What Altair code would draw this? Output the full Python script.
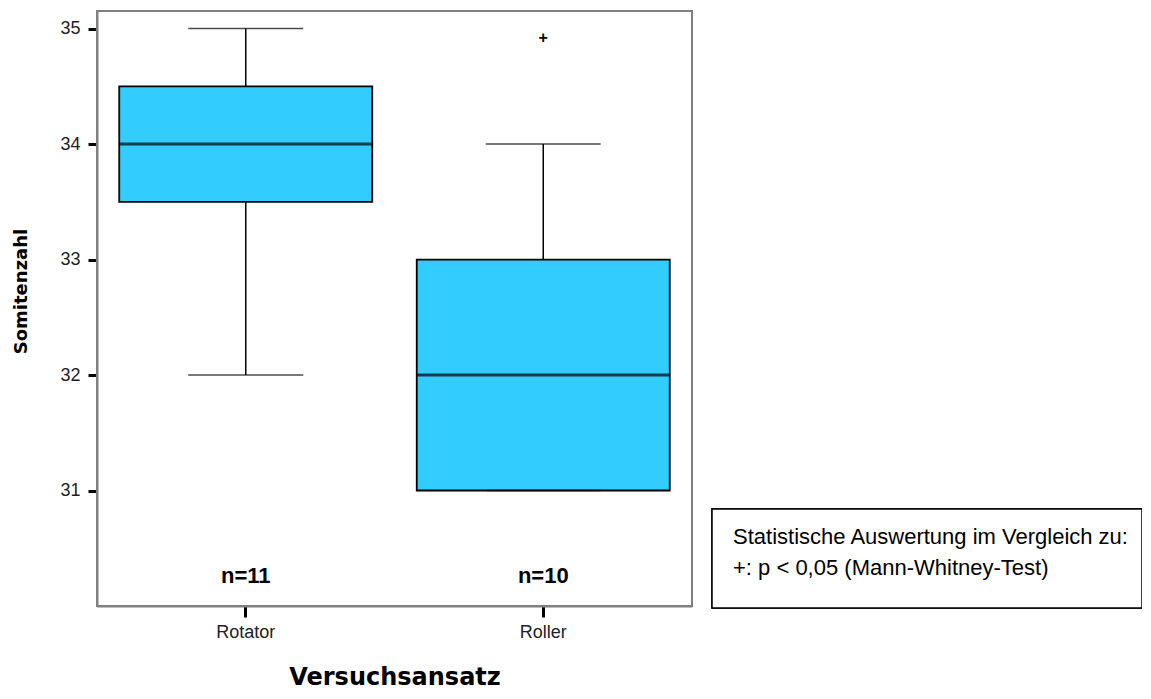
import altair as alt
import pandas as pd

groups = ["Rotator", "Roller"]
whisker_low = [32, 31]
q1 = [33.5, 31]
median = [34, 32]
q3 = [34.5, 33]
whisker_high = [35, 34]
n_labels = ["n=11", "n=10"]
outlier_group = ["Roller"]
outlier_value = [35]
y_ticks = [31, 32, 33, 34, 35]
note_lines = ["Statistische Auswertung im Vergleich zu:", "+: p <  0,05 (Mann-Whitney-Test)"]

df = pd.DataFrame({"g": groups, "lo": whisker_low, "q1": q1, "med": median,
                   "q3": q3, "hi": whisker_high, "n": n_labels})
out = pd.DataFrame({"g": outlier_group, "v": outlier_value})

FONT = "Liberation Sans"
W, H = 595, 595

xs = alt.X("g:N", sort=groups,
           scale=alt.Scale(type="band", paddingInner=0, paddingOuter=0),
           axis=alt.Axis(title="Versuchsansatz", labelAngle=0, labelFont=FONT,
                         labelFontSize=18, labelColor="#222", labelPadding=6,
                         tickColor="black", tickWidth=3, tickSize=11,
                         domainColor="#808080", domainWidth=2,
                         titleFont="DejaVu Sans", titleFontSize=24, titleFontWeight="bold",
                         titleColor="black", titlePadding=24))
ys = alt.Scale(domain=[30.0, 35.152], nice=False, zero=False)
yaxis = alt.Axis(title="Somitenzahl", values=y_ticks, format="d", grid=False, labelFont=FONT,
                 labelFontSize=18, labelColor="#222", labelPadding=8,
                 tickColor="black", tickWidth=3, tickSize=9,
                 domainColor="#808080", domainWidth=2,
                 titleFont="DejaVu Sans", titleFontSize=18, titleFontWeight="bold",
                 titleColor="black", titleX=-76, titleY=280, titleAngle=-90,
                 titleAlign="center", titleBaseline="middle")

base = alt.Chart(df)
whisk = base.mark_rule(color="black", strokeWidth=1.5).encode(
    x=xs, y=alt.Y("lo:Q", scale=ys, axis=yaxis), y2="hi:Q")
caps_lo = base.mark_tick(color="black", size=115, thickness=1.5, orient="horizontal").encode(
    x=xs, y=alt.Y("lo:Q", scale=ys))
caps_hi = base.mark_tick(color="black", size=115, thickness=1.5, orient="horizontal").encode(
    x=xs, y=alt.Y("hi:Q", scale=ys))
box = base.mark_bar(size=253, color="#33CCFF", stroke="black", strokeWidth=1.8).encode(
    x=xs, y=alt.Y("q1:Q", scale=ys), y2="q3:Q")
med = base.mark_tick(color="black", size=253, thickness=3, orient="horizontal").encode(
    x=xs, y=alt.Y("med:Q", scale=ys))
ntext = base.mark_text(font=FONT, fontSize=22, fontWeight="bold", color="black",
                       baseline="middle").encode(x=xs, y=alt.value(565), text="n:N")
outl = alt.Chart(out).mark_text(text="+", font=FONT, fontSize=16, fontWeight="bold",
                                color="black", baseline="middle", dy=9).encode(
    x=xs, y=alt.Y("v:Q", scale=ys))

frame = alt.Chart(df).mark_rect(fill=None, stroke="#808080", strokeWidth=2).encode(
    x=alt.value(0), x2=alt.value(W), y=alt.value(0), y2=alt.value(H))
notebox = alt.Chart(df).mark_rect(fill="white", stroke="black", strokeWidth=1.5).encode(
    x=alt.value(615), x2=alt.value(1045), y=alt.value(498), y2=alt.value(597))
note1 = alt.Chart(pd.DataFrame({"t": [note_lines[0]]})).mark_text(
    font=FONT, fontSize=22, color="black", align="left", baseline="middle").encode(
    x=alt.value(636), y=alt.value(526), text="t:N")
note2 = alt.Chart(pd.DataFrame({"t": [note_lines[1]]})).mark_text(
    font=FONT, fontSize=22, color="black", align="left", baseline="middle").encode(
    x=alt.value(636), y=alt.value(557), text="t:N")

chart = alt.layer(whisk, frame, box, med, caps_lo, caps_hi, outl, ntext,
                  notebox, note1, note2).properties(
    width=W, height=H,
    padding={"left": 89, "top": 3, "right": 450, "bottom": 84},
    autosize=alt.AutoSizeParams(type="none"),
).configure_view(stroke=None).configure(background="white")

chart.save("out.html", embed_options={"renderer": "svg", "actions": False})
